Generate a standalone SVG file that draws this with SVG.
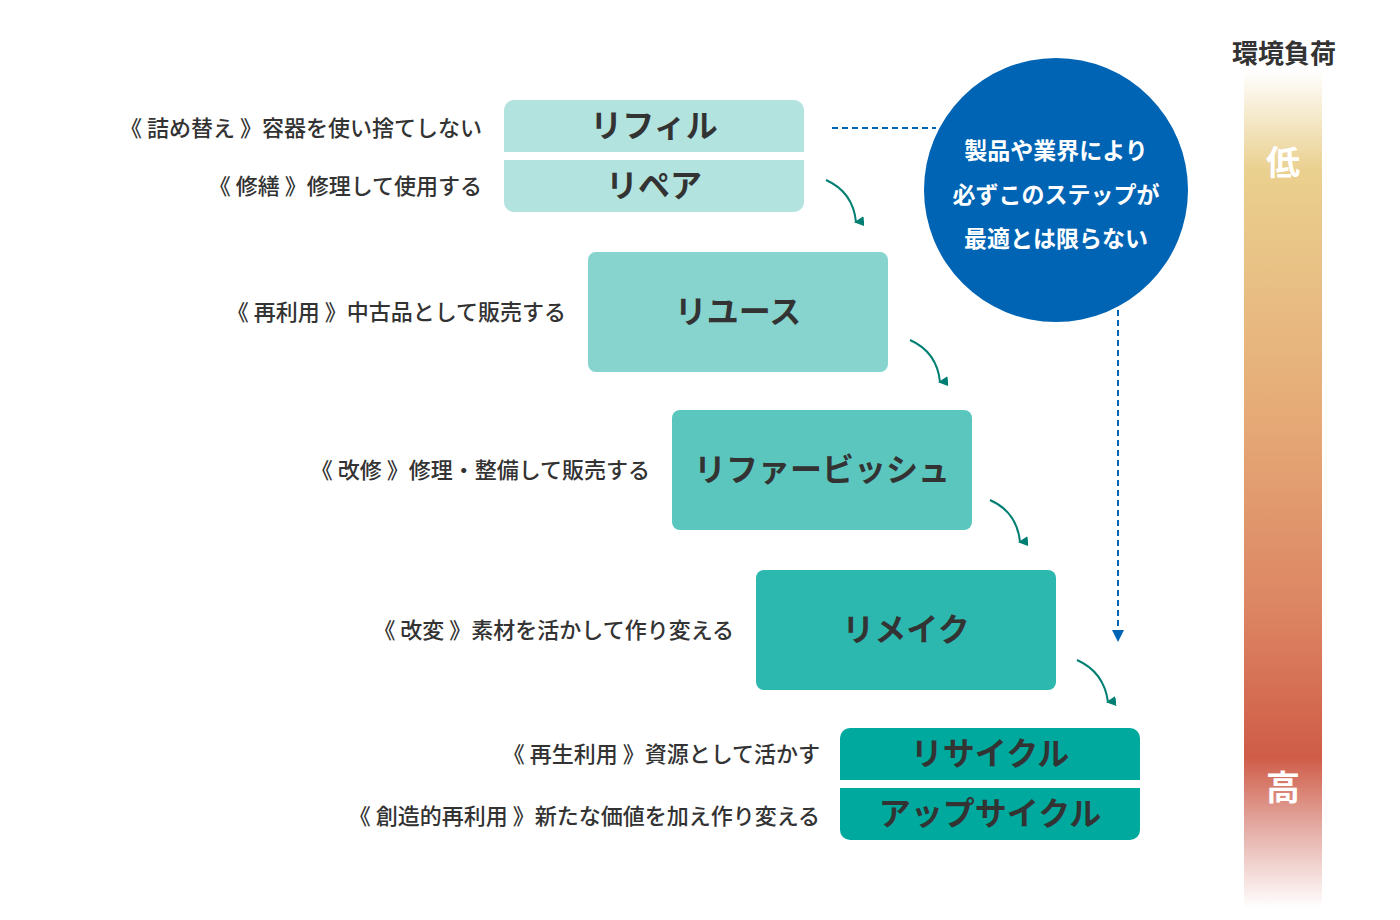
<svg xmlns="http://www.w3.org/2000/svg" width="1400" height="920" viewBox="0 0 1400 920">
<defs>
<linearGradient id="bar" x1="0" y1="0" x2="0" y2="1">
<stop offset="0" stop-color="#ffffff"/>
<stop offset="0.12" stop-color="#ead08f"/>
<stop offset="0.4" stop-color="#e6ac78"/>
<stop offset="0.65" stop-color="#dc8462"/>
<stop offset="0.82" stop-color="#cf5c47"/>
<stop offset="0.9" stop-color="#e3a8a0"/>
<stop offset="1" stop-color="#ffffff"/>
</linearGradient>
<marker id="ga" markerWidth="10" markerHeight="10" refX="5" refY="8" orient="auto" markerUnits="userSpaceOnUse" viewBox="0 0 10 10"><path d="M0,0 L10,0 L5,10 Z" fill="#007f72" transform="rotate(0)"/></marker>
<marker id="ba" markerWidth="12" markerHeight="12" refX="6" refY="10" markerUnits="userSpaceOnUse" viewBox="0 0 12 12"><path d="M0,0 L12,0 L6,12 Z" fill="#0064b4"/></marker>
</defs>
<style>
.lbl{font-family:"Noto Sans CJK JP",sans-serif;font-size:22px;fill:#333;text-anchor:end;font-weight:500}
.bt{font-family:"Noto Sans CJK JP",sans-serif;font-size:32px;fill:#333;text-anchor:middle;font-weight:700}
.ct{font-family:"Noto Sans CJK JP",sans-serif;font-size:23px;fill:#fff;text-anchor:middle;font-weight:700}
.arr{fill:none;stroke:#007f72;stroke-width:2}
</style>
<rect x="1244" y="70" width="78" height="838" fill="url(#bar)"/>
<text x="1284" y="63" font-family="Noto Sans CJK JP,sans-serif" font-size="26" font-weight="700" fill="#333" text-anchor="middle">環境負荷</text>
<text x="1283" y="175" font-family="Noto Sans CJK JP,sans-serif" font-size="34" font-weight="700" fill="#fff" text-anchor="middle">低</text>
<text x="1283" y="800" font-family="Noto Sans CJK JP,sans-serif" font-size="34" font-weight="700" fill="#fff" text-anchor="middle">高</text>
<g id="refill"><path d="M514,100 H794 A10,10 0 0 1 804,110 V152 H504 V110 A10,10 0 0 1 514,100 Z" fill="#b2e3df"/><text class="bt" x="654" y="137">リフィル</text><text class="lbl" x="482" y="136">《 詰め替え 》容器を使い捨てしない</text></g>
<g id="repair"><path d="M504,160 H804 V202 A10,10 0 0 1 794,212 H514 A10,10 0 0 1 504,202 Z" fill="#b2e3df"/><text class="bt" x="654" y="197">リペア</text><text class="lbl" x="482" y="194">《 修繕 》修理して使用する</text></g>
<g id="reuse"><rect x="588" y="252" width="300" height="120" rx="8" fill="#86d4cd"/><text class="bt" x="738" y="323">リユース</text><text class="lbl" x="566" y="320">《 再利用 》中古品として販売する</text></g>
<g id="refurbish"><rect x="672" y="410" width="300" height="120" rx="8" fill="#5bc6bd"/><text class="bt" x="822" y="481">リファービッシュ</text><text class="lbl" x="650" y="478">《 改修 》修理・整備して販売する</text></g>
<g id="remake"><rect x="756" y="570" width="300" height="120" rx="8" fill="#2db8af"/><text class="bt" x="906" y="641">リメイク</text><text class="lbl" x="734" y="638">《 改変 》素材を活かして作り変える</text></g>
<g id="recycle"><path d="M850,728 H1130 A10,10 0 0 1 1140,738 V780 H840 V738 A10,10 0 0 1 850,728 Z" fill="#00a99d"/><text class="bt" x="990" y="765">リサイクル</text><text class="lbl" x="820" y="762">《 再生利用 》資源として活かす</text></g>
<g id="upcycle"><path d="M840,788 H1140 V830 A10,10 0 0 1 1130,840 H850 A10,10 0 0 1 840,830 Z" fill="#00a99d"/><text class="bt" x="990" y="825">アップサイクル</text><text class="lbl" x="820" y="824">《 創造的再利用 》新たな価値を加え作り変える</text></g>
<g id="note"><circle cx="1056" cy="190" r="132" fill="#0064b4"/><text class="ct" x="1056" y="159">製品や業界により</text><text class="ct" x="1056" y="203">必ずこのステップが</text><text class="ct" x="1056" y="247">最適とは限らない</text></g>
<g id="connectors">
<path class="arr" d="M826,180 Q853,192 856,222" marker-end="url(#ga)"/>
<path class="arr" d="M910,340 Q937,352 940,382" marker-end="url(#ga)"/>
<path class="arr" d="M990,500 Q1017,512 1020,542" marker-end="url(#ga)"/>
<path class="arr" d="M1077,660 Q1104,672 1108,702" marker-end="url(#ga)"/>
<line x1="832" y1="128" x2="936" y2="128" stroke="#0064b4" stroke-width="2" stroke-dasharray="6,4"/>
<line x1="1118" y1="310" x2="1118" y2="640" stroke="#0064b4" stroke-width="2" stroke-dasharray="6,4" marker-end="url(#ba)"/>
</g>
</svg>
